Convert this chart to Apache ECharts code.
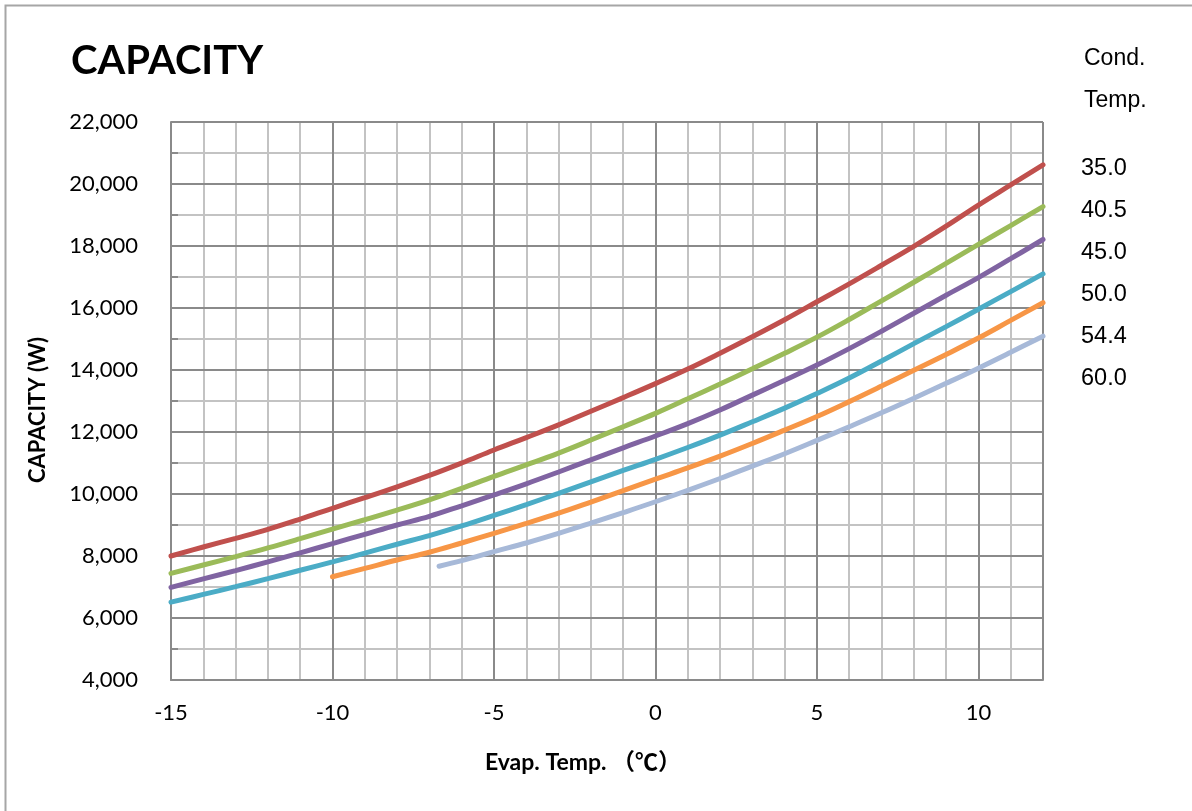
<!DOCTYPE html>
<html>
<head>
<meta charset="utf-8">
<script src="https://cdn.jsdelivr.net/npm/echarts@6/dist/echarts.min.js"></script>
<style>
html,body{margin:0;padding:0;background:#fff;}
#chart{width:1192px;height:811px;}
</style>
</head>
<body>
<div id="chart"></div>
<script>
// ---- data ----
const seriesNames = ['35.0', '40.5', '45.0', '50.0', '54.4', '60.0'];
const xFull = [-15,-14,-13,-12,-11,-10,-9,-8,-7,-6,-5,-4,-3,-2,-1,0,1,2,3,4,5,6,7,8,9,10,11,12];
const xFrom10 = [-10,-9,-8,-7,-6,-5,-4,-3,-2,-1,0,1,2,3,4,5,6,7,8,9,10,11,12];
const xFrom67 = [-6.7,-6,-5,-4,-3,-2,-1,0,1,2,3,4,5,6,7,8,9,10,11,12];
const cap350 = [8000,8290,8570,8860,9190,9540,9880,10230,10600,11000,11420,11820,12230,12670,13110,13560,14030,14540,15070,15620,16200,16780,17380,17990,18640,19320,19970,20620];
const cap405 = [7440,7710,7980,8260,8560,8870,9170,9480,9810,10180,10570,10940,11320,11740,12170,12600,13070,13550,14040,14540,15060,15630,16230,16830,17440,18050,18660,19270];
const cap450 = [6990,7260,7530,7810,8100,8400,8700,9000,9280,9620,9970,10330,10710,11100,11490,11870,12270,12710,13190,13670,14160,14690,15250,15830,16410,16980,17590,18210];
const cap500 = [6510,6760,7010,7270,7540,7810,8090,8380,8660,8970,9310,9660,10020,10390,10760,11120,11500,11900,12330,12770,13240,13740,14290,14850,15400,15960,16530,17100];
const cap544 = [7330,7600,7870,8120,8420,8730,9050,9380,9740,10110,10480,10840,11220,11630,12060,12500,12980,13480,13990,14500,15030,15600,16170];
const cap600 = [7670,7850,8140,8420,8730,9060,9400,9750,10120,10500,10900,11300,11730,12170,12620,13090,13570,14060,14570,15090];
const seriesX = [xFull, xFull, xFull, xFull, xFrom10, xFrom67];
const seriesY = [cap350, cap405, cap450, cap500, cap544, cap600];
const colors = ['#C0504D', '#9BBB59', '#8064A2', '#4BACC6', '#F79646', '#A7B9D8'];

const FONT = 'Lato, "Noto Sans CJK SC", sans-serif';
const ARIAL = '"Liberation Sans", Arial, sans-serif';
const MAJOR = '#8a8a8a';
const MINOR = '#c3c3c3';

const chart = echarts.init(document.getElementById('chart'), null, {renderer: 'canvas'});

const series = seriesNames.map((name, i) => ({
  name: name,
  type: 'line',
  xAxisIndex: 0,
  yAxisIndex: 0,
  data: seriesX[i].map((x, j) => [x, seriesY[i][j]]),
  smooth: 0.4,
  showSymbol: false,
  symbol: 'none',
  lineStyle: {color: colors[i], width: 5, cap: 'round'},
  itemStyle: {color: colors[i]},
  z: 5
}));

chart.setOption({
  animation: false,
  backgroundColor: '#fff',
  grid: {left: 171, right: 149, top: 122, bottom: 131, containLabel: false},
  graphic: [
    {type: 'rect', shape: {x: 5.5, y: 5.5, width: 1200, height: 830},
     style: {fill: null, stroke: '#a6a6a6', lineWidth: 2}, z: 0, silent: true},
    {type: 'text', x: 71, y: 61,
     style: {text: 'CAPACITY', font: 'bold 40px ' + FONT, fill: '#000', verticalAlign: 'middle'}},
    {type: 'text', x: 1084, y: 59,
     style: {text: 'Cond.', font: '23px ' + ARIAL, fill: '#000', verticalAlign: 'middle'}},
    {type: 'text', x: 1084, y: 101,
     style: {text: 'Temp.', font: '23px ' + ARIAL, fill: '#000', verticalAlign: 'middle'}},
    {type: 'text', x: 583, y: 763,
     style: {text: 'Evap. Temp. （℃）', font: 'bold 23px ' + FONT, fill: '#000',
             align: 'center', verticalAlign: 'middle'}},
    {type: 'text', x: 38, y: 410, rotation: Math.PI / 2,
     style: {text: 'CAPACITY (W)', font: 'bold 22px ' + FONT, fill: '#000',
             align: 'center', verticalAlign: 'middle'}}
  ],
  legend: {
    orient: 'vertical',
    left: 1071,
    top: 151,
    itemWidth: 0,
    itemHeight: 0,
    itemGap: 16,
    icon: 'none',
    selectedMode: false,
    data: seriesNames,
    textStyle: {fontFamily: ARIAL, fontSize: 23.5, color: '#000', lineHeight: 26}
  },
  xAxis: [
    {
      type: 'value', min: -15, max: 12, interval: 5, position: 'bottom', z: 2,
      axisLine: {show: true, onZero: false, lineStyle: {color: MAJOR, width: 2}},
      axisTick: {show: true, inside: true, length: 6, lineStyle: {color: MAJOR, width: 2}},
      axisLabel: {
        margin: 22, fontFamily: FONT, fontSize: 22, color: '#000',
        formatter: v => (v % 5 === 0 ? String(v) : '')
      },
      splitLine: {show: true, lineStyle: {color: MAJOR, width: 2}}
    },
    {
      type: 'value', min: -15, max: 12, interval: 1, position: 'top', z: 1,
      axisLine: {show: false}, axisTick: {show: false}, axisLabel: {show: false},
      splitLine: {show: true, lineStyle: {color: MINOR, width: 2}}
    }
  ],
  yAxis: [
    {
      type: 'value', min: 4000, max: 22000, interval: 2000, position: 'left', z: 2,
      axisLine: {show: true, onZero: false, lineStyle: {color: MAJOR, width: 2}},
      axisTick: {show: true, inside: true, length: 7, lineStyle: {color: MAJOR, width: 2}},
      minorTick: {show: true, splitNumber: 2, length: 7, lineStyle: {color: MAJOR, width: 2}},
      axisLabel: {
        margin: 33, fontFamily: FONT, fontSize: 22, color: '#000',
        formatter: v => v.toLocaleString('en-US')
      },
      splitLine: {show: true, lineStyle: {color: MAJOR, width: 2}}
    },
    {
      type: 'value', min: 4000, max: 22000, interval: 1000, position: 'right', z: 1,
      axisLine: {show: false}, axisTick: {show: false}, axisLabel: {show: false},
      splitLine: {show: true, lineStyle: {color: MINOR, width: 2}}
    }
  ],
  series: series
});
</script>
</body>
</html>
